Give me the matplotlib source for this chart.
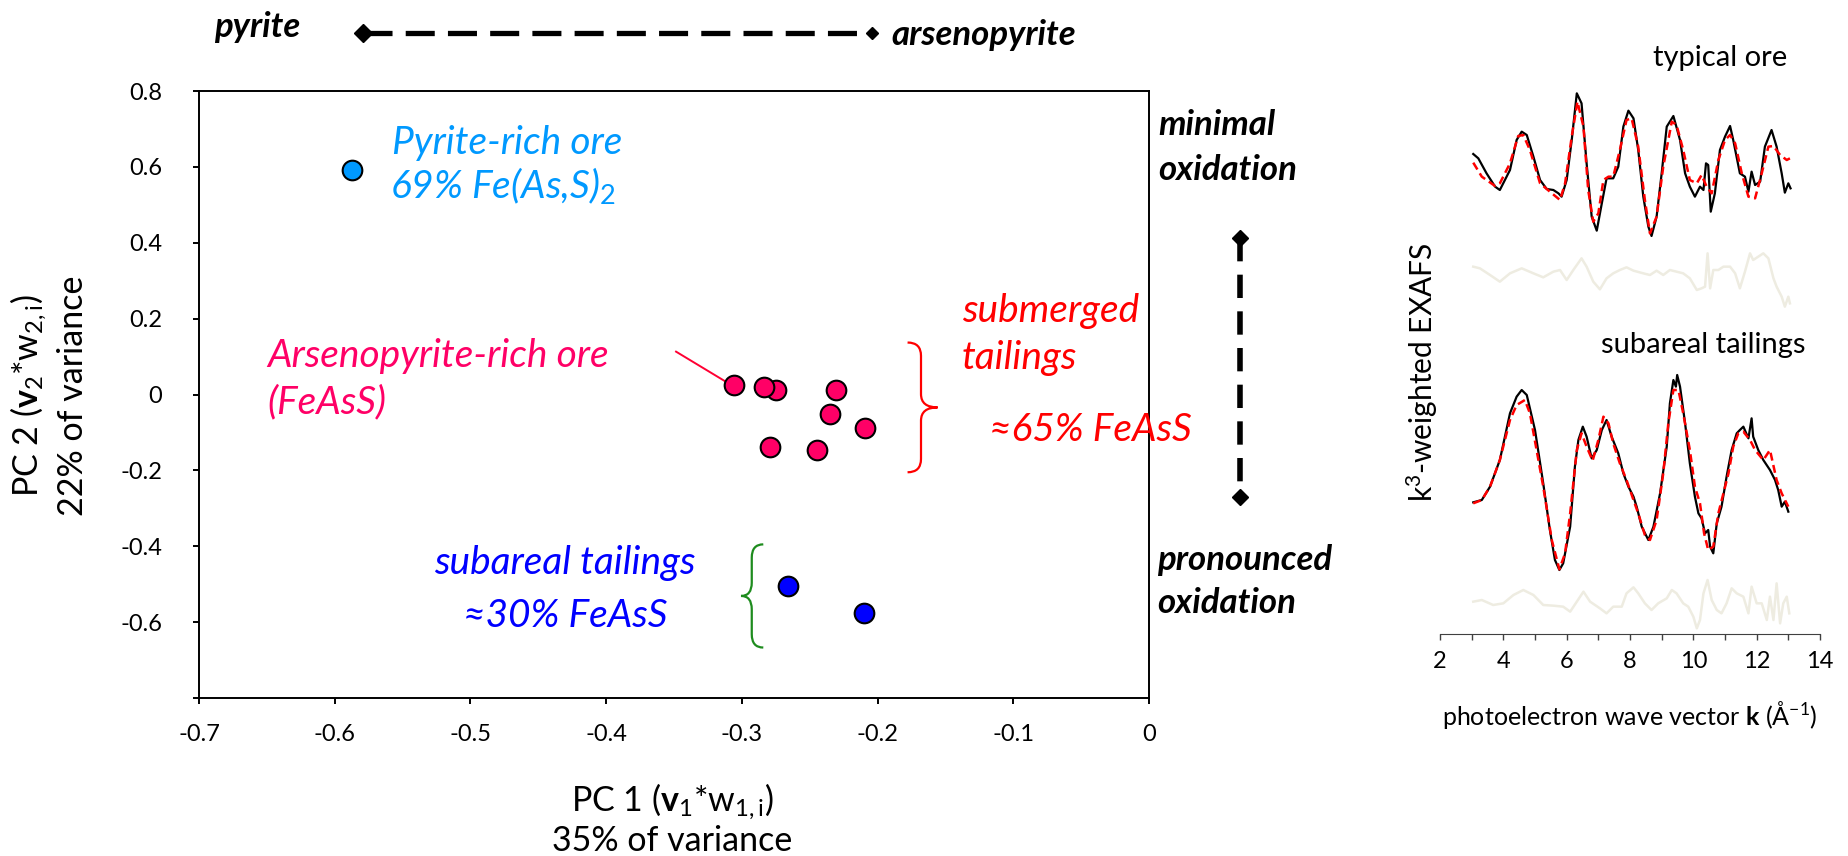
import numpy as np
import matplotlib.pyplot as plt
from matplotlib.path import Path
from matplotlib.patches import PathPatch

plt.rcParams['font.family'] = ['Lato', 'DejaVu Sans']
plt.rcParams['mathtext.fontset'] = 'custom'
plt.rcParams['mathtext.rm'] = 'Lato'
plt.rcParams['mathtext.it'] = 'Lato:italic'
plt.rcParams['mathtext.bf'] = 'Lato:bold'
plt.rcParams['axes.unicode_minus'] = False

# ====================================
# PCA scores (PC1, PC2)
# ====================================
pyrite_pc1 = [-0.587]
pyrite_pc2 = [0.592]
ore_pc1 = [-0.306, -0.275, -0.284, -0.231, -0.235, -0.209, -0.279, -0.245]
ore_pc2 = [0.026, 0.011, 0.019, 0.011, -0.051, -0.088, -0.138, -0.145]
sub_pc1 = [-0.266, -0.210]
sub_pc2 = [-0.505, -0.577]

xtick_vals = [-0.7, -0.6, -0.5, -0.4, -0.3, -0.2, -0.1, 0]
xtick_labels = ['-0.7', '-0.6', '-0.5', '-0.4', '-0.3', '-0.2', '-0.1', '0']
ytick_vals = [-0.8, -0.6, -0.4, -0.2, 0, 0.2, 0.4, 0.6, 0.8]
ytick_labels = ['', '-0.6', '-0.4', '-0.2', '0', '0.2', '0.4', '0.6', '0.8']

# ====================================
# EXAFS spectra (k, k3-chi)
# ====================================
k_typ = [3.05, 3.21, 3.47, 3.74, 3.89, 4.21, 4.42, 4.58, 4.74, 4.95, 5.16, 5.37, 5.58, 5.74,
         5.84, 6.00, 6.16, 6.32, 6.47, 6.63, 6.79, 6.95, 7.11, 7.26, 7.47, 7.63, 7.79, 7.95,
         8.11, 8.26, 8.42, 8.58, 8.68, 8.84, 9.00, 9.16, 9.37, 9.58, 9.74, 9.89, 10.05, 10.21,
         10.32, 10.40, 10.47, 10.55, 10.68, 10.84, 11.00, 11.16, 11.26, 11.47, 11.63, 11.74,
         11.84, 11.95, 12.11, 12.26, 12.47, 12.63, 12.79, 12.89, 13.00, 13.07]
chi_typ = [0.78, 0.65, 0.20, -0.20, -0.30, 0.30, 1.20, 1.45, 1.35, 0.70, 0.00, -0.27, -0.30, -0.40,
           -0.50, 0.00, 1.20, 2.60, 2.30, 0.50, -1.10, -1.52, -0.70, 0.05, 0.05, 0.40, 1.60, 2.08,
           1.85, 0.90, -0.50, -1.40, -1.68, -1.10, 0.20, 1.60, 1.92, 1.20, 0.20, -0.20, -0.50, -0.20,
           -0.30, 0.50, 0.45, -0.95, -0.40, 0.90, 1.30, 1.62, 1.20, 0.20, 0.10, -0.35,
           0.25, -0.15, -0.05, 1.00, 1.50, 1.00, 0.20, -0.38, -0.10, -0.25]

k_typ_fit = [3.05, 3.32, 3.74, 3.89, 4.21, 4.47, 4.63, 4.84, 5.16, 5.47, 5.79, 5.95, 6.16, 6.34,
             6.53, 6.68, 6.84, 7.00, 7.16, 7.32, 7.47, 7.68, 7.89, 8.05, 8.26, 8.47, 8.63, 8.84,
             9.05, 9.32, 9.47, 9.68, 9.89, 10.11, 10.26, 10.42, 10.58, 10.79, 11.00, 11.16, 11.32,
             11.53, 11.74, 11.95, 12.16, 12.37, 12.53, 12.74, 12.95, 13.05]
fit_typ = [0.52, 0.10, -0.18, -0.10, 0.50, 1.32, 1.35, 0.90, -0.10, -0.35, -0.60, -0.10, 1.30, 2.35,
           1.60, -0.30, -1.25, -1.00, 0.00, 0.10, 0.10, 0.90, 1.80, 1.85, 1.00, -0.60, -1.60, -1.10,
           0.40, 1.75, 1.65, 0.90, 0.00, -0.10, 0.15, -0.20, -0.40, 0.60, 1.20, 1.35, 1.10,
           0.20, -0.50, -0.55, 0.20, 1.00, 1.02, 0.75, 0.60, 0.65]

k_typ_res = [3.05, 3.26, 3.58, 3.89, 4.21, 4.58, 4.95, 5.26, 5.58, 5.79, 6.00, 6.21, 6.47, 6.63,
             6.84, 7.05, 7.26, 7.47, 7.68, 7.89, 8.11, 8.42, 8.63, 8.84, 9.05, 9.26, 9.47, 9.68,
             9.89, 10.11, 10.26, 10.37, 10.45, 10.53, 10.63, 10.79, 10.95, 11.16, 11.32, 11.47,
             11.63, 11.79, 11.89, 12.05, 12.21, 12.37, 12.53, 12.63, 12.79, 12.89, 13.00, 13.05]
res_typ = [0.20, 0.15, -0.05, -0.25, 0.00, 0.15, 0.00, -0.12, 0.05, 0.10, -0.20, 0.10, 0.45, 0.20,
           -0.25, -0.48, -0.15, 0.00, 0.10, 0.18, 0.08, 0.00, -0.05, 0.08, -0.05, 0.10, 0.05, 0.00,
           -0.15, -0.50, -0.45, -0.40, 0.60, -0.45, 0.10, 0.10, 0.20, 0.20, 0.00, -0.45,
           0.05, 0.60, 0.40, 0.50, 0.60, 0.45, -0.15, -0.40, -0.70, -1.00, -0.70, -0.90]

k_sub = [3.05, 3.32, 3.58, 3.89, 4.21, 4.42, 4.58, 4.74, 5.00, 5.26, 5.47, 5.63, 5.77, 5.89,
         6.11, 6.26, 6.37, 6.51, 6.63, 6.79, 6.95, 7.11, 7.26, 7.42, 7.63, 7.79, 7.95, 8.11,
         8.21, 8.37, 8.58, 8.74, 8.95, 9.16, 9.26, 9.37, 9.45, 9.49, 9.58, 9.74, 9.89, 10.05,
         10.16, 10.26, 10.37, 10.47, 10.53, 10.63, 10.74, 10.89, 11.05, 11.21, 11.37, 11.47,
         11.58, 11.74, 11.84, 11.89, 12.05, 12.21, 12.42, 12.58, 12.68, 12.79, 12.89, 13.00]
chi_sub = [0.00, 0.07, 0.47, 1.27, 2.67, 3.17, 3.37, 3.22, 2.17, 0.57, -0.83, -1.73, -2.03, -1.83,
           -0.73, 1.07, 1.87, 2.27, 1.97, 1.32, 1.57, 2.17, 2.47, 1.97, 1.47, 0.87, 0.47, 0.17,
           -0.13, -0.73, -1.13, -0.73, 0.27, 1.67, 2.97, 3.67, 3.47, 3.82, 3.47, 2.37, 1.17, 0.17,
           -0.33, -0.48, -0.93, -0.83, -1.33, -1.53, -0.63, -0.13, 0.77, 1.57, 2.07, 2.17,
           2.27, 1.92, 2.52, 1.97, 1.57, 1.27, 0.97, 0.67, 0.37, -0.13, 0.02, -0.28]

k_sub_fit = [3.05, 3.32, 3.58, 3.89, 4.21, 4.42, 4.68, 4.84, 5.05, 5.26, 5.53, 5.77, 5.95, 6.11,
             6.32, 6.47, 6.63, 6.82, 7.00, 7.16, 7.32, 7.47, 7.68, 7.89, 8.11, 8.26, 8.47, 8.63,
             8.84, 9.05, 9.21, 9.37, 9.53, 9.68, 9.89, 10.05, 10.21, 10.34, 10.47, 10.63, 10.79,
             10.95, 11.11, 11.26, 11.42, 11.58, 11.79, 11.95, 12.21, 12.42, 12.63, 12.79, 13.00]
fit_sub = [-0.03, 0.07, 0.47, 1.27, 2.47, 2.92, 3.07, 2.67, 1.57, 0.47, -1.13, -2.01, -1.53, -0.33,
           1.57, 2.07, 1.67, 1.25, 1.87, 2.57, 2.37, 1.77, 1.17, 0.67, 0.07, -0.33, -0.98, -1.13,
           -0.53, 0.87, 2.37, 3.37, 3.37, 2.67, 1.57, 0.47, -0.03, -0.93, -1.43, -1.33, -0.33,
           0.27, 0.87, 1.67, 2.07, 2.12, 1.87, 1.57, 1.27, 1.57, 0.67, 0.27, -0.13]

k_sub_res = [3.05, 3.32, 3.68, 4.00, 4.32, 4.63, 4.95, 5.26, 5.58, 5.89, 6.11, 6.32, 6.53, 6.74,
             7.05, 7.26, 7.47, 7.74, 7.89, 8.11, 8.26, 8.47, 8.68, 8.89, 9.16, 9.32, 9.47, 9.68,
             9.84, 10.00, 10.11, 10.21, 10.32, 10.45, 10.58, 10.74, 10.89, 11.05, 11.21, 11.37,
             11.58, 11.74, 11.84, 12.00, 12.16, 12.32, 12.42, 12.53, 12.63, 12.74, 12.84, 12.95, 13.03]
res_sub = [0.05, 0.10, -0.05, 0.00, 0.25, 0.40, 0.25, -0.05, -0.07, -0.10, -0.25, 0.05, 0.35, 0.05,
           -0.15, -0.30, -0.10, -0.10, 0.30, 0.48, 0.30, 0.00, -0.20, 0.00, 0.15, 0.40, 0.30, 0.00,
           -0.10, -0.40, -0.75, -0.50, 0.30, 0.70, 0.10, -0.20, -0.30, 0.00, 0.45, 0.30,
           0.20, -0.30, 0.50, 0.00, 0.00, -0.50, 0.20, -0.50, 0.60, -0.60, 0.00, 0.20, -0.30]

# vertical offsets of the stacked spectra
off_typ, off_typ_res, off_sub, off_sub_res = 13.62, 10.82, 3.95, 0.92

W, H = 1848, 856
fsz_tick = 17
fsz_note = 28
fsz_bold = 25
fsz_lab = 24.5

# ====================================
# 図の作成
# ====================================
fig = plt.figure(figsize=(W / 100, H / 100), dpi=100)


def brace(ax, x_end, x_stem, x_tip, y_top, y_bot, r, color):
    # curly brace drawn with quadratic bezier segments
    ym = (y_top + y_bot) / 2
    verts = [(x_end, y_top), (x_stem, y_top), (x_stem, y_top - r),
             (x_stem, ym + r), (x_stem, ym), (x_tip, ym),
             (x_stem, ym), (x_stem, ym - r),
             (x_stem, y_bot + r), (x_stem, y_bot), (x_end, y_bot)]
    codes = [Path.MOVETO, Path.CURVE3, Path.CURVE3,
             Path.LINETO, Path.CURVE3, Path.CURVE3,
             Path.CURVE3, Path.CURVE3,
             Path.LINETO, Path.CURVE3, Path.CURVE3]
    ax.add_patch(PathPatch(Path(verts, codes), fc='none', ec=color, lw=1.6, zorder=2))


# ---- PCA scatter ----
ax = fig.add_axes([199 / W, 1 - 698 / H, 950 / W, 607 / H])
ax.scatter(pyrite_pc1, pyrite_pc2, s=200, c='#0099FF', edgecolors='k', linewidths=1.5, zorder=3)
ax.scatter(ore_pc1, ore_pc2, s=200, c='#FF0066', edgecolors='k', linewidths=1.5, zorder=3)
ax.scatter(sub_pc1, sub_pc2, s=200, c='#0000FF', edgecolors='k', linewidths=1.5, zorder=3)
ax.plot([-0.3485, -0.311], [0.113, 0.032], color='#FF0033', lw=1.4, zorder=2)
brace(ax, -0.1779, -0.1680, -0.1558, 0.137, -0.205, 0.035, '#FF0000')
brace(ax, -0.2842, -0.2927, -0.3006, -0.395, -0.667, 0.035, '#1E8C1E')

ax.set_xlim(-0.7, 0)
ax.set_ylim(-0.8, 0.8)
ax.set_xticks(xtick_vals)
ax.set_xticklabels(xtick_labels)
ax.set_yticks(ytick_vals)
ax.set_yticklabels(ytick_labels)
for sp in ax.spines.values():
    sp.set_linewidth(1.4)
ax.tick_params(axis='x', direction='out', length=4.5, width=1.4, labelsize=fsz_tick, pad=14)
ax.tick_params(axis='y', direction='out', length=4.5, width=1.4, labelsize=fsz_tick, pad=22)

# ---- EXAFS panel ----
ax2 = fig.add_axes([1440 / W, 1 - 634 / H, 380 / W, 594 / H])
ax2.plot(k_typ_res, np.array(res_typ) + off_typ_res, color='#EEECE1', lw=1.8)
ax2.plot(k_sub_res, np.array(res_sub) + off_sub_res, color='#EEECE1', lw=1.8)
ax2.plot(k_typ, np.array(chi_typ) + off_typ, color='k', lw=1.6)
ax2.plot(k_typ_fit, np.array(fit_typ) + off_typ, color='#FF0000', lw=1.8, dashes=(3.2, 1.8))
ax2.plot(k_sub, np.array(chi_sub) + off_sub, color='k', lw=1.6)
ax2.plot(k_sub_fit, np.array(fit_sub) + off_sub, color='#FF0000', lw=1.8, dashes=(3.2, 1.8))
ax2.set_xlim(2, 14)
ax2.set_ylim(0, 17.82)
for s in ['left', 'right', 'top']:
    ax2.spines[s].set_visible(False)
ax2.spines['bottom'].set_color('#404040')
ax2.set_yticks([])
ax2.set_xticks(np.arange(2, 15, 2))
ax2.set_xticks(np.arange(2, 15, 1), minor=True)
ax2.tick_params(axis='x', which='both', direction='out', length=4, width=1, color='#404040',
                labelsize=17, pad=8)
ax2.set_xlabel('photoelectron wave vector $\\mathbf{k}$ (Å$^{\\mathrm{-1}}$)', fontsize=18, labelpad=20)
ax2.set_ylabel('k$^{\\mathrm{3}}$-weighted EXAFS', fontsize=21.5)
ax2.yaxis.set_label_coords(0.0, 0.44)

# ---- annotations in pixel coordinates ----
ov = fig.add_axes([0, 0, 1, 1], facecolor='none')
ov.set_xlim(0, W)
ov.set_ylim(H, 0)
ov.axis('off')

# pyrite <-> arsenopyrite arrow
ov.plot([363, 872], [33, 33], color='k', lw=3.8, dashes=(5.5, 2.5), solid_capstyle='butt')
ov.plot([363], [33], 'kD', ms=9)
ov.plot([872], [33], 'kD', ms=6.5)
ov.text(214, 27, 'pyrite', fontsize=fsz_bold, fontweight='bold', style='italic', va='center')
ov.text(891, 35, 'arsenopyrite', fontsize=fsz_bold, fontweight='bold', style='italic', va='center')

# oxidation arrow
ov.plot([1240, 1240], [238, 497], color='k', lw=4, dashes=(4.2, 2.4))
ov.plot([1240, 1240], [238, 497], 'kD', ms=8.5, ls='none')
ov.text(1158, 125, 'minimal', fontsize=fsz_bold, fontweight='bold', style='italic', va='center')
ov.text(1158, 170, 'oxidation', fontsize=fsz_bold, fontweight='bold', style='italic', va='center')
ov.text(1157, 560, 'pronounced', fontsize=fsz_bold, fontweight='bold', style='italic', va='center')
ov.text(1157, 603, 'oxidation', fontsize=fsz_bold, fontweight='bold', style='italic', va='center')

# group labels
ov.text(392, 143, 'Pyrite-rich ore', fontsize=fsz_note, style='italic', color='#0099FF', va='center')
ov.text(390, 185, '69% Fe(As,S)$_{\\mathit{2}}$', fontsize=fsz_note, style='italic', color='#0099FF',
        va='center')
ov.text(267, 356, 'Arsenopyrite-rich ore', fontsize=fsz_note, style='italic', color='#FF0066', va='center')
ov.text(267, 402, '(FeAsS)', fontsize=fsz_note, style='italic', color='#FF0066', va='center')
ov.text(962, 311, 'submerged', fontsize=fsz_note, style='italic', color='#FF0000', va='center')
ov.text(962, 358, 'tailings', fontsize=fsz_note, style='italic', color='#FF0000', va='center')
ov.text(989, 430, '≈65% FeAsS', fontsize=fsz_note, style='italic', color='#FF0000', va='center')
ov.text(565, 563, 'subareal tailings', fontsize=fsz_note, style='italic', color='#0000FF',
        ha='center', va='center')
ov.text(565, 616, '≈30% FeAsS', fontsize=fsz_note, style='italic', color='#0000FF',
        ha='center', va='center')

# axis titles of the PCA plot
ov.text(672, 802, 'PC 1 ($\\mathbf{v}_{\\mathrm{1}}$*w$_{\\mathrm{1,i}}$)', fontsize=fsz_lab,
        ha='center', va='center')
ov.text(672, 841, '35% of variance', fontsize=fsz_lab, ha='center', va='center')
ov.text(29, 396, 'PC 2 ($\\mathbf{v}_{\\mathrm{2}}$*w$_{\\mathrm{2,i}}$)', fontsize=fsz_lab, rotation=90,
        ha='center', va='center')
ov.text(73, 396, '22% of variance', fontsize=fsz_lab, rotation=90, ha='center', va='center')

# spectrum titles
ov.text(1720, 58, 'typical ore', fontsize=21, ha='center', va='center')
ov.text(1703, 345, 'subareal tailings', fontsize=21, ha='center', va='center')

fig.savefig('out.png', dpi=100)
